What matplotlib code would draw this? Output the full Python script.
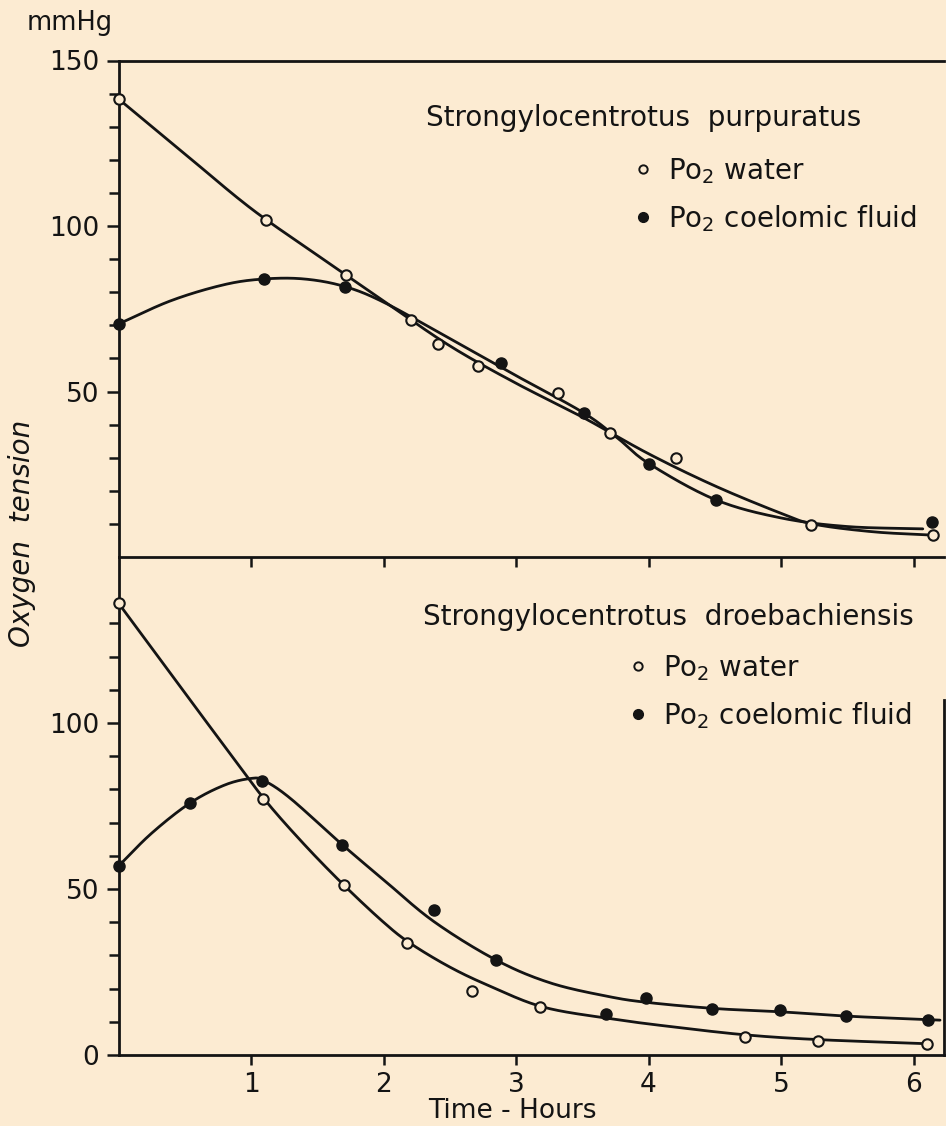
import numpy as np
import matplotlib
matplotlib.use("Agg")
import matplotlib.pyplot as plt
from matplotlib.lines import Line2D

# --- Данные: S. purpuratus (верхняя панель) ---
pur_water_t = [0.0, 1.11, 1.72, 2.21, 2.41, 2.71, 3.32, 3.71, 4.21, 5.23, 6.15]
pur_water_po2 = [138.4, 101.8, 85.2, 71.6, 64.4, 57.7, 49.5, 37.5, 29.9, 9.7, 6.6]
pur_fluid_t = [0.0, 1.10, 1.71, 2.89, 3.51, 4.00, 4.51, 6.14]
pur_fluid_po2 = [70.4, 84.0, 81.6, 58.6, 43.5, 28.1, 17.2, 10.6]

# сглаженные кривые
pur_water_curve_t = [0.0, 0.5, 1.0, 1.5, 2.0, 2.5, 3.0, 3.5, 4.0, 4.5, 5.0, 5.25, 5.7, 6.15]
pur_water_curve_po2 = [138.4, 121.8, 105.3, 91.2, 77.4, 63.8, 52.5, 42.3, 31.2, 21.5, 13.2, 9.9, 7.6, 6.6]
pur_fluid_curve_t = [0.0, 0.4, 0.8, 1.1, 1.4, 1.7, 2.0, 2.5, 3.0, 3.5, 3.75, 4.0, 4.5, 5.0, 5.5, 6.07]
pur_fluid_curve_po2 = [70.4, 77.5, 82.3, 84.0, 84.0, 81.8, 77.0, 66.0, 54.8, 43.8, 36.5, 28.3, 17.4, 11.8, 9.2, 8.5]

# --- Данные: S. droebachiensis (нижняя панель) ---
dro_water_t = [0.0, 1.09, 1.70, 2.18, 2.67, 3.18, 4.73, 5.28, 6.10]
dro_water_po2 = [136.1, 77.1, 51.2, 33.7, 19.3, 14.5, 5.4, 4.2, 3.3]
dro_fluid_t = [0.0, 0.54, 1.08, 1.69, 2.38, 2.85, 3.68, 3.98, 4.48, 4.99, 5.49, 6.11]
dro_fluid_po2 = [56.9, 75.9, 82.5, 63.3, 43.7, 28.6, 12.3, 17.2, 13.9, 13.6, 11.6, 10.5]

dro_water_curve_t = [0.0, 0.4, 0.8, 1.1, 1.4, 1.7, 2.0, 2.2, 2.5, 2.8, 3.2, 3.7, 4.2, 4.75, 5.3, 6.1]
dro_water_curve_po2 = [136.1, 114.5, 93.0, 77.1, 63.5, 51.2, 40.0, 33.7, 26.5, 20.8, 14.5, 11.0, 8.4, 6.0, 4.6, 3.4]
dro_fluid_curve_t = [0.0, 0.25, 0.54, 0.8, 1.0, 1.1, 1.3, 1.69, 2.0, 2.38, 2.85, 3.26, 3.7, 4.0, 4.5, 5.0, 5.5, 6.2]
dro_fluid_curve_po2 = [56.9, 66.8, 75.9, 81.3, 83.3, 82.6, 77.2, 63.3, 52.8, 40.2, 28.6, 21.7, 17.6, 15.8, 14.0, 13.0, 11.7, 10.5]

x_ticks = [1, 2, 3, 4, 5, 6]
x_labels = ["1", "2", "3", "4", "5", "6"]

BG = "#fcebd2"
INK = "#141414"
FS = 19


# Сглаживание ломаной (Catmull-Rom) для плавной линии
def smooth(xs, ys, n=24):
    x = np.asarray(xs, float)
    y = np.asarray(ys, float)
    px = np.r_[2 * x[0] - x[1], x, 2 * x[-1] - x[-2]]
    py = np.r_[2 * y[0] - y[1], y, 2 * y[-1] - y[-2]]
    t = np.linspace(0, 1, n, endpoint=False)
    out_x, out_y = [], []
    for i in range(len(x) - 1):
        for p, out in ((px, out_x), (py, out_y)):
            p0, p1, p2, p3 = p[i], p[i + 1], p[i + 2], p[i + 3]
            out.append(0.5 * (2 * p1 + (-p0 + p2) * t
                              + (2 * p0 - 5 * p1 + 4 * p2 - p3) * t ** 2
                              + (-p0 + 3 * p1 - 3 * p2 + p3) * t ** 3))
    return np.r_[np.concatenate(out_x), x[-1]], np.r_[np.concatenate(out_y), y[-1]]


def draw_panel(ax, wt, wy, ft, fy, wct, wcy, fct, fcy):
    ax.patch.set_visible(False)
    cx, cy = smooth(wct, wcy)
    ax.plot(cx, cy, color=INK, lw=2.0, zorder=2, solid_capstyle="round")
    cx, cy = smooth(fct, fcy)
    ax.plot(cx, cy, color=INK, lw=2.0, zorder=2, solid_capstyle="round")
    ax.plot(wt, wy, ls="none", marker="o", ms=7.5, mfc=BG, mec=INK, mew=1.5, zorder=4, clip_on=False)
    ax.plot(ft, fy, ls="none", marker="o", ms=8, mfc=INK, mec=INK, zorder=4, clip_on=False)
    ax.set_xlim(0, 6.23)
    ax.set_ylim(0, 150)
    for s in ax.spines.values():
        s.set_linewidth(2.0)
        s.set_color(INK)
    ax.tick_params(axis="both", which="both", direction="out", width=1.8, color=INK,
                   labelsize=FS, labelcolor=INK)
    ax.tick_params(axis="y", which="major", length=9, pad=5)
    ax.tick_params(axis="y", which="minor", length=7)
    ax.tick_params(axis="x", which="major", length=7, pad=5)


def add_key(ax, title, tx, ty, lx, ly):
    ax.text(tx, ty, title, transform=ax.transAxes, fontsize=FS + 1, color=INK,
            ha="left", va="center")
    h_open = Line2D([], [], ls="none", marker="o", ms=6, mfc=BG, mec=INK, mew=1.4)
    h_fill = Line2D([], [], ls="none", marker="o", ms=7, mfc=INK, mec=INK)
    ax.legend([h_open, h_fill], ["Po$_2$ water", "Po$_2$ coelomic fluid"],
              loc="upper left", bbox_to_anchor=(lx, ly), frameon=False,
              fontsize=FS + 1, handlelength=1.0, handletextpad=0.4,
              labelspacing=0.62, borderpad=0, borderaxespad=0, labelcolor=INK)


fig = plt.figure(figsize=(9.46, 11.26), dpi=100, facecolor=BG)
W, H = 946, 1126
left, right = 118.5, 944
ax_top = fig.add_axes([left / W, 1 - 557 / H, (right - left) / W, (557 - 60.5) / H])
ax_bot = fig.add_axes([left / W, 1 - 1055 / H, (right - left) / W, (1055 - 557) / H])
ax_top.set_zorder(3)

# Верхняя панель
draw_panel(ax_top, pur_water_t, pur_water_po2, pur_fluid_t, pur_fluid_po2,
           pur_water_curve_t, pur_water_curve_po2, pur_fluid_curve_t, pur_fluid_curve_po2)
ax_top.spines["right"].set_visible(False)
ax_top.set_yticks([50, 100, 150])
ax_top.set_yticks([v for v in range(10, 150, 10) if v % 50], minor=True)
ax_top.set_xticks(x_ticks)
ax_top.tick_params(axis="x", labelbottom=False)
add_key(ax_top, "Strongylocentrotus  purpuratus", 0.3725, 0.884, 0.618, 0.808)

# Нижняя панель
draw_panel(ax_bot, dro_water_t, dro_water_po2, dro_fluid_t, dro_fluid_po2,
           dro_water_curve_t, dro_water_curve_po2, dro_fluid_curve_t, dro_fluid_curve_po2)
ax_bot.spines["top"].set_visible(False)
ax_bot.spines["right"].set_bounds(0, 107)
ax_bot.set_yticks([0, 50, 100])
ax_bot.set_yticks([v for v in range(10, 140, 10) if v % 50], minor=True)
ax_bot.set_xticks(x_ticks)
ax_bot.set_xticklabels(x_labels)
add_key(ax_bot, "Strongylocentrotus  droebachiensis", 0.369, 0.8795, 0.612, 0.807)

fig.text(70 / W, 1 - 23 / H, "mmHg", fontsize=FS - 0.5, color=INK, ha="center", va="center")
fig.text(22 / W, 1 - 533 / H, "Oxygen  tension", fontsize=FS + 1, color=INK, style="italic",
         rotation=90, ha="center", va="center")
fig.text(512 / W, 1 - 1124 / H, "Time - Hours", fontsize=FS, color=INK, ha="center", va="bottom")

fig.savefig("out.png", dpi=100, facecolor=BG)
